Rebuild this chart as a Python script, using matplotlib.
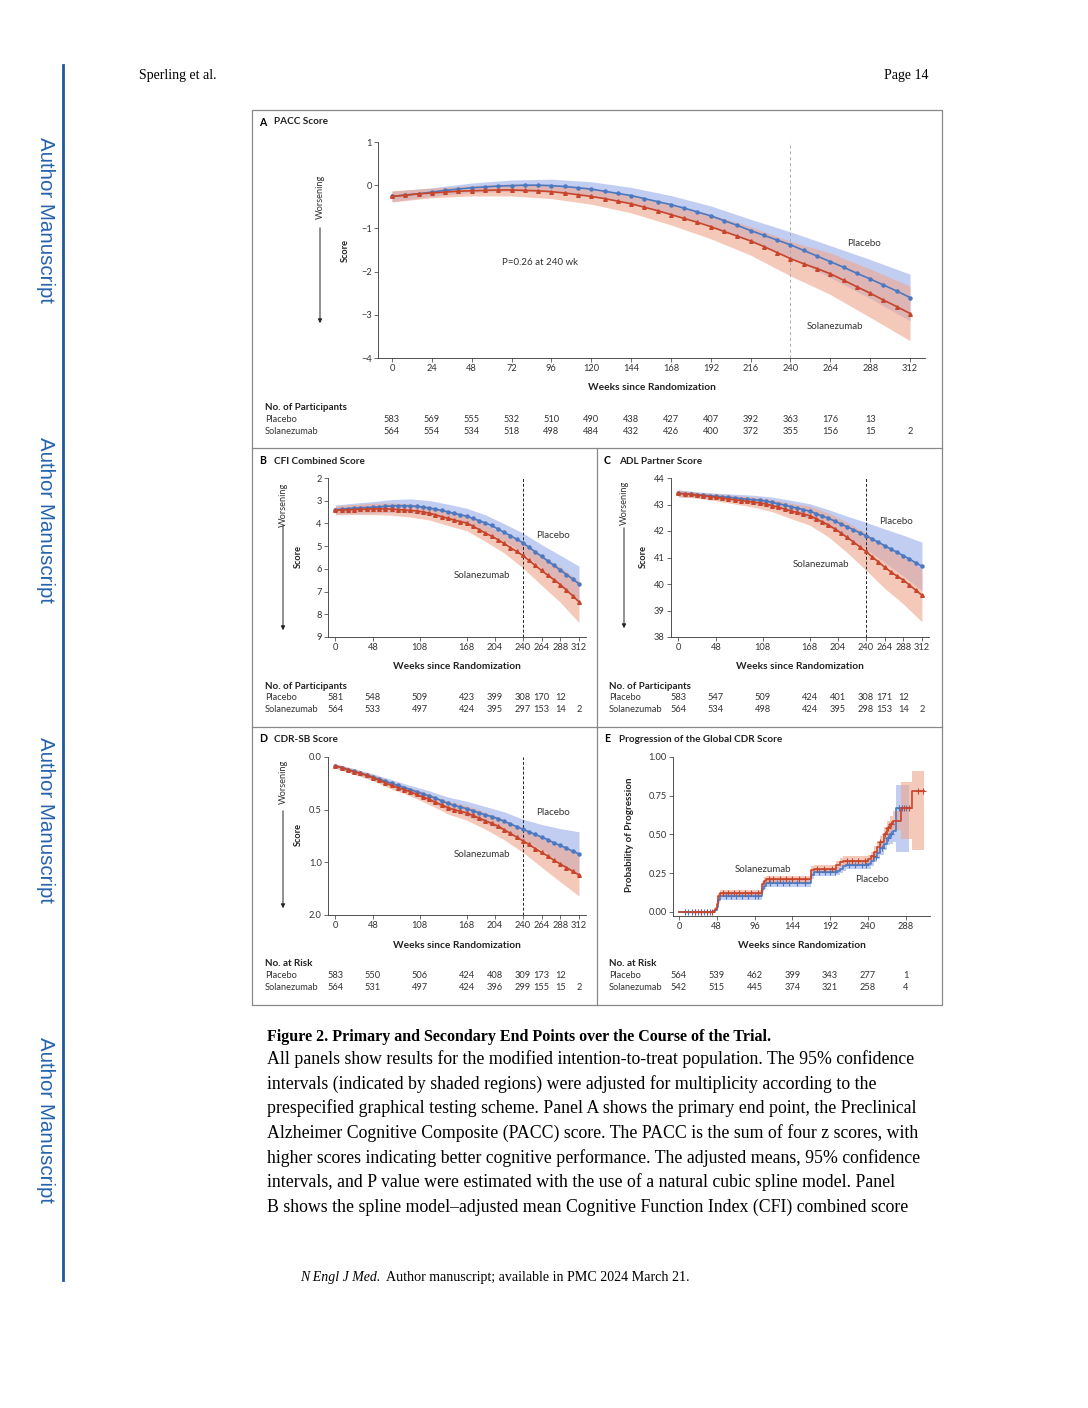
import numpy as np
import matplotlib
matplotlib.use('Agg')
import matplotlib.pyplot as plt
from matplotlib.transforms import blended_transform_factory

# ---------------- data ----------------
weeks = list(range(0, 313, 8))          # spline-model estimates every 8 weeks
weeks24 = list(range(0, 313, 24))       # CI half-widths every 24 weeks

# Panel A - PACC
pacc_pbo = [-0.26, -0.23, -0.20, -0.16, -0.12, -0.09, -0.06, -0.04, -0.02, -0.01,
            0.00, 0.00, -0.01, -0.03, -0.06, -0.09, -0.14, -0.19, -0.24, -0.31,
            -0.38, -0.45, -0.53, -0.62, -0.71, -0.82, -0.93, -1.05, -1.16, -1.27,
            -1.38, -1.51, -1.64, -1.77, -1.90, -2.04, -2.17, -2.31, -2.45, -2.60]
pacc_sol = [-0.26, -0.23, -0.20, -0.18, -0.16, -0.14, -0.13, -0.12, -0.11, -0.11,
            -0.12, -0.13, -0.15, -0.18, -0.22, -0.26, -0.31, -0.37, -0.43, -0.51,
            -0.59, -0.68, -0.77, -0.86, -0.96, -1.07, -1.18, -1.29, -1.42, -1.56,
            -1.70, -1.82, -1.93, -2.05, -2.20, -2.35, -2.50, -2.66, -2.81, -2.97]
pacc_pbo_hw = [0.12, 0.10, 0.11, 0.13, 0.15, 0.17, 0.19, 0.21, 0.23, 0.26, 0.30, 0.37, 0.45, 0.54]
pacc_sol_hw = [0.13, 0.11, 0.12, 0.14, 0.16, 0.18, 0.21, 0.24, 0.28, 0.33, 0.40, 0.48, 0.56, 0.63]

# Panel B - CFI combined
cfi_pbo = [3.39, 3.37, 3.35, 3.33, 3.31, 3.30, 3.29, 3.27, 3.25, 3.23,
           3.22, 3.22, 3.23, 3.25, 3.28, 3.32, 3.37, 3.43, 3.49, 3.56,
           3.62, 3.68, 3.78, 3.88, 3.98, 4.09, 4.24, 4.39, 4.54, 4.69,
           4.85, 5.05, 5.25, 5.45, 5.65, 5.85, 6.05, 6.25, 6.45, 6.66]
cfi_sol = [3.42, 3.41, 3.40, 3.39, 3.38, 3.37, 3.36, 3.36, 3.36, 3.37,
           3.39, 3.41, 3.43, 3.45, 3.49, 3.55, 3.62, 3.70, 3.77, 3.85,
           3.92, 3.98, 4.12, 4.27, 4.42, 4.56, 4.71, 4.88, 5.06, 5.23,
           5.41, 5.63, 5.85, 6.07, 6.28, 6.48, 6.69, 6.94, 7.19, 7.45]
cfi_pbo_hw = [0.20, 0.22, 0.25, 0.28, 0.31, 0.33, 0.34, 0.35, 0.36, 0.38, 0.43, 0.52, 0.65, 0.78]
cfi_sol_hw = [0.20, 0.22, 0.25, 0.27, 0.29, 0.30, 0.32, 0.34, 0.37, 0.42, 0.54, 0.65, 0.78, 0.92]

# Panel C - ADL partner
adl_pbo = [43.42, 43.41, 43.39, 43.37, 43.35, 43.33, 43.31, 43.29, 43.27, 43.25,
           43.22, 43.20, 43.18, 43.16, 43.13, 43.08, 43.03, 42.98, 42.92, 42.86,
           42.81, 42.75, 42.66, 42.57, 42.48, 42.38, 42.27, 42.16, 42.05, 41.94,
           41.83, 41.70, 41.58, 41.45, 41.32, 41.20, 41.07, 40.94, 40.80, 40.67]
adl_sol = [43.42, 43.40, 43.38, 43.35, 43.33, 43.30, 43.27, 43.24, 43.21, 43.18,
           43.15, 43.12, 43.09, 43.06, 43.02, 42.96, 42.90, 42.83, 42.76, 42.70,
           42.64, 42.58, 42.47, 42.35, 42.23, 42.09, 41.93, 41.76, 41.59, 41.41,
           41.23, 41.03, 40.84, 40.64, 40.46, 40.30, 40.15, 39.96, 39.77, 39.57]
adl_pbo_hw = [0.13, 0.11, 0.12, 0.14, 0.17, 0.20, 0.24, 0.28, 0.33, 0.40, 0.50, 0.63, 0.77, 0.91]
adl_sol_hw = [0.13, 0.11, 0.13, 0.16, 0.19, 0.23, 0.29, 0.36, 0.45, 0.57, 0.70, 0.80, 0.90, 1.00]

# Panel D - CDR-SB
cdr_pbo = [0.085, 0.10, 0.12, 0.135, 0.155, 0.17, 0.19, 0.21, 0.23, 0.25,
           0.27, 0.29, 0.31, 0.33, 0.35, 0.37, 0.39, 0.415, 0.44, 0.46,
           0.475, 0.49, 0.51, 0.53, 0.55, 0.565, 0.585, 0.61, 0.635, 0.66,
           0.685, 0.71, 0.735, 0.76, 0.785, 0.815, 0.84, 0.865, 0.895, 0.92]
cdr_sol = [0.085, 0.10, 0.12, 0.14, 0.155, 0.175, 0.195, 0.22, 0.245, 0.27,
           0.29, 0.31, 0.33, 0.355, 0.38, 0.40, 0.43, 0.455, 0.48, 0.50,
           0.515, 0.53, 0.555, 0.58, 0.605, 0.63, 0.655, 0.69, 0.725, 0.76,
           0.795, 0.83, 0.87, 0.905, 0.94, 0.98, 1.015, 1.05, 1.085, 1.12]
cdr_pbo_hw = [0.02, 0.025, 0.03, 0.035, 0.04, 0.05, 0.06, 0.07, 0.08, 0.09, 0.095, 0.12, 0.16, 0.21]
cdr_sol_hw = [0.02, 0.025, 0.03, 0.035, 0.04, 0.05, 0.06, 0.07, 0.08, 0.095, 0.11, 0.14, 0.17, 0.20]

# Panel E - global CDR progression (Kaplan-Meier)
km_pbo_t = [0, 44, 46, 48, 50, 52, 104, 106, 108, 110, 166, 168, 172, 200, 204, 208, 212, 240,
            244, 248, 252, 256, 260, 264, 268, 272, 276, 292]
km_pbo_s = [0, 0.005, 0.015, 0.03, 0.08, 0.10, 0.10, 0.15, 0.17, 0.185, 0.185, 0.24, 0.255, 0.265,
            0.28, 0.295, 0.305, 0.31, 0.33, 0.355, 0.38, 0.41, 0.44, 0.48, 0.50, 0.52, 0.67, 0.67]
km_pbo_lo = [0, 0, 0.005, 0.015, 0.06, 0.08, 0.08, 0.13, 0.15, 0.16, 0.16, 0.215, 0.23, 0.24,
             0.25, 0.265, 0.275, 0.28, 0.295, 0.32, 0.34, 0.37, 0.40, 0.43, 0.44, 0.45, 0.39, 0.39]
km_pbo_hi = [0, 0.01, 0.025, 0.045, 0.10, 0.12, 0.12, 0.17, 0.195, 0.21, 0.21, 0.265, 0.28, 0.29,
             0.31, 0.325, 0.335, 0.34, 0.365, 0.39, 0.42, 0.45, 0.48, 0.53, 0.56, 0.59, 0.82, 0.82]
km_sol_t = [0, 44, 46, 48, 50, 52, 104, 106, 108, 110, 166, 168, 172, 200, 204, 208, 240, 244,
            248, 252, 256, 260, 264, 268, 272, 282, 296, 312]
km_sol_s = [0, 0.005, 0.02, 0.05, 0.10, 0.12, 0.12, 0.18, 0.20, 0.21, 0.21, 0.27, 0.28, 0.30,
            0.32, 0.33, 0.34, 0.36, 0.39, 0.42, 0.45, 0.50, 0.54, 0.57, 0.59, 0.67, 0.78, 0.78]
km_sol_lo = [0, 0, 0.005, 0.03, 0.08, 0.10, 0.10, 0.16, 0.175, 0.185, 0.185, 0.245, 0.255, 0.27,
             0.29, 0.30, 0.31, 0.33, 0.355, 0.385, 0.41, 0.45, 0.49, 0.51, 0.53, 0.47, 0.40, 0.40]
km_sol_hi = [0, 0.01, 0.035, 0.07, 0.12, 0.14, 0.14, 0.20, 0.225, 0.235, 0.235, 0.295, 0.305, 0.33,
             0.35, 0.36, 0.37, 0.39, 0.425, 0.455, 0.49, 0.55, 0.59, 0.62, 0.65, 0.84, 0.91, 0.91]
km_pbo_cens = [8, 12, 16, 20, 24, 28, 32, 36, 40, 60, 66, 72, 80, 88, 96, 100, 116, 124, 132,
               140, 150, 160, 178, 186, 192, 198, 216, 224, 232, 238, 250, 258, 266, 270, 280, 284, 288]
km_sol_cens = [20, 28, 36, 42, 56, 62, 70, 76, 84, 92, 100, 114, 120, 128, 136, 144, 152, 160,
               176, 184, 194, 214, 220, 228, 236, 246, 256, 262, 266, 270, 286, 292, 304, 310]

# numbers at risk
a_ticks = list(range(0, 313, 24))
a_pbo_n = ['583', '569', '555', '532', '510', '490', '438', '427', '407', '392', '363', '176', '13', '']
a_sol_n = ['564', '554', '534', '518', '498', '484', '432', '426', '400', '372', '355', '156', '15', '2']
bcd_ticks = [0, 48, 108, 168, 204, 240, 264, 288, 312]
b_pbo_n = ['581', '548', '509', '423', '399', '308', '170', '12', '']
b_sol_n = ['564', '533', '497', '424', '395', '297', '153', '14', '2']
c_pbo_n = ['583', '547', '509', '424', '401', '308', '171', '12', '']
c_sol_n = ['564', '534', '498', '424', '395', '298', '153', '14', '2']
d_pbo_n = ['583', '550', '506', '424', '408', '309', '173', '12', '']
d_sol_n = ['564', '531', '497', '424', '396', '299', '155', '15', '2']
e_ticks = [0, 48, 96, 144, 192, 240, 288]
e_pbo_n = ['564', '539', '462', '399', '343', '277', '1']
e_sol_n = ['542', '515', '445', '374', '321', '258', '4']

# ---------------- style ----------------
W, H = 1088, 1408
BLUE = '#4a78c2'
RED = '#c8442a'
BLUE_BAND = '#aebdee'
RED_BAND = '#eea68c'
SANS = ['Lato', 'DejaVu Sans']
SERIF = ['Liberation Serif', 'DejaVu Serif']
FS = 6.7

plt.rcParams['font.family'] = SANS

fig = plt.figure(figsize=(W / 100, H / 100), dpi=100)


def fx(x):
    return x / W


def fy(y):
    return 1 - y / H


def add_ax(x0, y0, x1, y1):
    return fig.add_axes([fx(x0), fy(y1), fx(x1) - fx(x0), fy(y0) - fy(y1)])


def style_ax(ax):
    for s in ['top', 'right']:
        ax.spines[s].set_visible(False)
    for s in ['left', 'bottom']:
        ax.spines[s].set_linewidth(0.6)
        ax.spines[s].set_color('#333333')
    ax.tick_params(length=3, width=0.5, pad=1.5, labelsize=FS, colors='#333333')
    ax.patch.set_alpha(0)


def trend(ax, pbo, sol, pbo_hw, sol_hw):
    p = np.array(pbo)
    s = np.array(sol)
    ax.fill_between(weeks24, p[::3] - pbo_hw, p[::3] + pbo_hw, color=BLUE_BAND, alpha=0.75, lw=0)
    ax.fill_between(weeks24, s[::3] - sol_hw, s[::3] + sol_hw, color=RED_BAND, alpha=0.6, lw=0)
    ax.plot(weeks, pbo, color=BLUE, lw=1.2, marker='o', ms=2.2, zorder=4)
    ax.plot(weeks, sol, color=RED, lw=1.2, marker='^', ms=2.6, zorder=5)


def worsening(x, y_text, y0, y1, score_x, score_y):
    fig.text(fx(x), fy(y_text), 'Worsening', rotation=90, ha='center', va='center',
             fontsize=FS, color='#333333')
    fig.text(fx(score_x), fy(score_y), 'Score', rotation=90, ha='center', va='center',
             fontsize=FS, fontweight='bold', color='#222222')
    fig.add_artist(matplotlib.patches.FancyArrowPatch(
        (fx(x), fy(y0)), (fx(x), fy(y1)), transform=fig.transFigure,
        arrowstyle='-|>', mutation_scale=6, lw=0.7, color='#222222'))


def risk_table(ax, ticks, pbo_n, sol_n, y_head, title='No. of Participants', label_x=265):
    tr = blended_transform_factory(ax.transData, fig.transFigure)
    fig.text(fx(label_x), fy(y_head), title, fontsize=FS + 0.4, fontweight='bold',
             va='center', color='#222222')
    fig.text(fx(label_x), fy(y_head + 12), 'Placebo', fontsize=FS, va='center', color='#333333')
    fig.text(fx(label_x), fy(y_head + 24), 'Solanezumab', fontsize=FS, va='center', color='#333333')
    for t, a, b in zip(ticks, pbo_n, sol_n):
        ax.text(t, fy(y_head + 12), a, transform=tr, ha='center', va='center', fontsize=FS,
                color='#333333')
        ax.text(t, fy(y_head + 24), b, transform=tr, ha='center', va='center', fontsize=FS,
                color='#333333')


def panel_title(x, y, letter, title):
    fig.text(fx(x), fy(y), letter, fontsize=7.6, fontweight='bold', va='center')
    fig.text(fx(x + 15), fy(y), title, fontsize=7.2, fontweight='bold', va='center', color='#222222')


def xlabel(ax, y):
    tr = blended_transform_factory(ax.transAxes, fig.transFigure)
    ax.text(0.5, fy(y), 'Weeks since Randomization', transform=tr, ha='center', va='center',
            fontsize=FS + 0.6, fontweight='bold', color='#222222')


# ---------------- page furniture ----------------
fig.text(fx(139), fy(75), 'Sperling et al.', family=SERIF, fontsize=10, va='center')
fig.text(fx(928), fy(75), 'Page 14', family=SERIF, fontsize=10, va='center', ha='right')
fig.add_artist(plt.Line2D([fx(63), fx(63)], [fy(65), fy(1280)], color='#1f5a9e', lw=2,
                          transform=fig.transFigure))
for yc in [220, 520, 820, 1120]:
    fig.text(fx(45), fy(yc), 'Author Manuscript', family=['Liberation Sans', 'DejaVu Sans'],
             fontsize=14.8, rotation=-90, ha='center', va='center', color='#2563b0')

# figure frame and dividers
frame = dict(color='#888888', lw=0.9, transform=fig.transFigure)
fig.add_artist(plt.Rectangle((fx(252), fy(1005)), fx(942) - fx(252), fy(110) - fy(1005),
                             fill=False, ec='#888888', lw=0.9, transform=fig.transFigure))
fig.add_artist(plt.Line2D([fx(252), fx(942)], [fy(448), fy(448)], **frame))
fig.add_artist(plt.Line2D([fx(252), fx(942)], [fy(727), fy(727)], **frame))
fig.add_artist(plt.Line2D([fx(597), fx(597)], [fy(448), fy(1005)], **frame))

# ---------------- Panel A ----------------
ax = add_ax(378, 142, 925, 358)
style_ax(ax)
trend(ax, pacc_pbo, pacc_sol, pacc_pbo_hw, pacc_sol_hw)
ax.axvline(240, color='#aaaaaa', lw=0.7, ls=(0, (3, 3)), zorder=1)
ax.set_xlim(-8.4, 321)
ax.set_ylim(-4, 1)
ax.set_xticks(a_ticks)
ax.set_yticks([-4, -3, -2, -1, 0, 1])
ax.set_yticklabels(['\u22124', '\u22123', '\u22122', '\u22121', '0', '1'])
ax.text(284, -1.36, 'Placebo', fontsize=FS + 0.3, ha='center', va='center', color='#333333')
ax.text(267, -3.27, 'Solanezumab', fontsize=FS + 0.3, ha='center', va='center', color='#333333')
ax.text(89, -1.8, 'P=0.26 at 240 wk', fontsize=FS + 0.3, ha='center', va='center', color='#333333')
panel_title(259, 122, 'A', 'PACC Score')
worsening(320, 197, 225, 326, 345, 250)
xlabel(ax, 387)
risk_table(ax, a_ticks, a_pbo_n, a_sol_n, 407)

# ---------------- Panels B, C, D ----------------
def bcd_panel(box, data, ylim, yticks, yticklabels, lab_p, lab_s, title_xy, letter, title,
              wors, lbl_y, tab_y, tab_title, pbo_n, sol_n, label_x):
    ax = add_ax(*box)
    style_ax(ax)
    trend(ax, *data)
    ax.axvline(240, color='#222222', lw=0.7, ls=(0, (3, 2)), zorder=1)
    ax.set_xlim(-9.5, 321)
    ax.set_ylim(*ylim)
    ax.set_xticks(bcd_ticks)
    ax.set_yticks(yticks)
    ax.set_yticklabels(yticklabels)
    ax.text(*lab_p, 'Placebo', fontsize=FS + 0.3, ha='center', va='center', color='#333333')
    ax.text(*lab_s, 'Solanezumab', fontsize=FS + 0.3, ha='center', va='center', color='#333333')
    panel_title(*title_xy, letter, title)
    worsening(*wors)
    xlabel(ax, lbl_y)
    risk_table(ax, bcd_ticks, pbo_n, sol_n, tab_y, tab_title, label_x)
    return ax


bcd_panel((328, 478, 586, 637), (cfi_pbo, cfi_sol, cfi_pbo_hw, cfi_sol_hw), (9, 2),
          [2, 3, 4, 5, 6, 7, 8, 9], ['2', '3', '4', '5', '6', '7', '8', '9'],
          (279, 4.55), (188, 6.3), (259, 461), 'B', 'CFI Combined Score',
          (283, 505, 523, 633, 298, 557), 667, 686, 'No. of Participants', b_pbo_n, b_sol_n, 265)

bcd_panel((671, 478, 929, 637), (adl_pbo, adl_sol, adl_pbo_hw, adl_sol_hw), (38, 44),
          [38, 39, 40, 41, 42, 43, 44], ['38', '39', '40', '41', '42', '43', '44'],
          (279, 42.35), (183, 40.75), (604, 461), 'C', 'ADL Partner Score',
          (624, 503, 525, 631, 643, 557), 667, 686, 'No. of Participants', c_pbo_n, c_sol_n, 609)

bcd_panel((328, 757, 586, 915), (cdr_pbo, cdr_sol, cdr_pbo_hw, cdr_sol_hw), (1.5, 0.0),
          [0.0, 0.5, 1.0, 1.5], ['0.0', '0.5', '1.0', '2.0'],
          (279, 0.53), (188, 0.93), (259, 739), 'D', 'CDR-SB Score',
          (283, 782, 808, 911, 298, 835), 945, 964, 'No. at Risk', d_pbo_n, d_sol_n, 265)

# ---------------- Panel E ----------------
ax = add_ax(673, 757, 930, 916)
style_ax(ax)
ax.fill_between(km_pbo_t, km_pbo_lo, km_pbo_hi, step='post', color=BLUE_BAND, alpha=0.75, lw=0)
ax.fill_between(km_sol_t, km_sol_lo, km_sol_hi, step='post', color=RED_BAND, alpha=0.6, lw=0)
ax.step(km_pbo_t, km_pbo_s, where='post', color=BLUE, lw=1.2, zorder=4)
ax.step(km_sol_t, km_sol_s, where='post', color=RED, lw=1.2, zorder=5)
for t, s, c, col, z in [(km_pbo_t, km_pbo_s, km_pbo_cens, BLUE, 4),
                        (km_sol_t, km_sol_s, km_sol_cens, RED, 5)]:
    idx = np.searchsorted(t, c, side='right') - 1
    ax.plot(c, np.array(s)[idx], ls='none', marker='+', ms=4.5, mew=0.8, color=col, zorder=z)
ax.set_xlim(-7.6, 319)
ax.set_ylim(-0.026, 1.0)
ax.set_xticks(e_ticks)
ax.set_yticks([0, 0.25, 0.5, 0.75, 1.0])
ax.set_yticklabels(['0.00', '0.25', '0.50', '0.75', '1.00'])
ax.text(107, 0.275, 'Solanezumab', fontsize=FS + 0.3, ha='center', va='center', color='#333333')
ax.text(245, 0.21, 'Placebo', fontsize=FS + 0.3, ha='center', va='center', color='#333333')
fig.text(fx(630), fy(835), 'Probability of Progression', rotation=90, ha='center', va='center',
         fontsize=FS + 0.4, fontweight='bold', color='#222222')
panel_title(604, 739, 'E', 'Progression of the Global CDR Score')
xlabel(ax, 945)
risk_table(ax, e_ticks, e_pbo_n, e_sol_n, 964, 'No. at Risk', 609)

# ---------------- caption ----------------
fig.text(fx(267), fy(1037), 'Figure 2. Primary and Secondary End Points over the Course of the Trial.',
         family=SERIF, fontsize=11.5, fontweight='bold', va='center')
caption = [
    'All panels show results for the modified intention-to-treat population. The 95% confidence',
    'intervals (indicated by shaded regions) were adjusted for multiplicity according to the',
    'prespecified graphical testing scheme. Panel A shows the primary end point, the Preclinical',
    'Alzheimer Cognitive Composite (PACC) score. The PACC is the sum of four z scores, with',
    'higher scores indicating better cognitive performance. The adjusted means, 95% confidence',
    'intervals, and P value were estimated with the use of a natural cubic spline model. Panel',
    'B shows the spline model\u2013adjusted mean Cognitive Function Index (CFI) combined score',
]
for i, line in enumerate(caption):
    fig.text(fx(267), fy(1059 + i * 24.7), line, family=SERIF, fontsize=12.75, va='center')

fig.text(fx(300), fy(1277), 'N Engl J Med.', family=SERIF, fontsize=10, style='italic', va='center')
fig.text(fx(386), fy(1277), 'Author manuscript; available in PMC 2024 March 21.', family=SERIF,
         fontsize=10.1, va='center')

fig.savefig('out.png', dpi=100)
plt.close(fig)
